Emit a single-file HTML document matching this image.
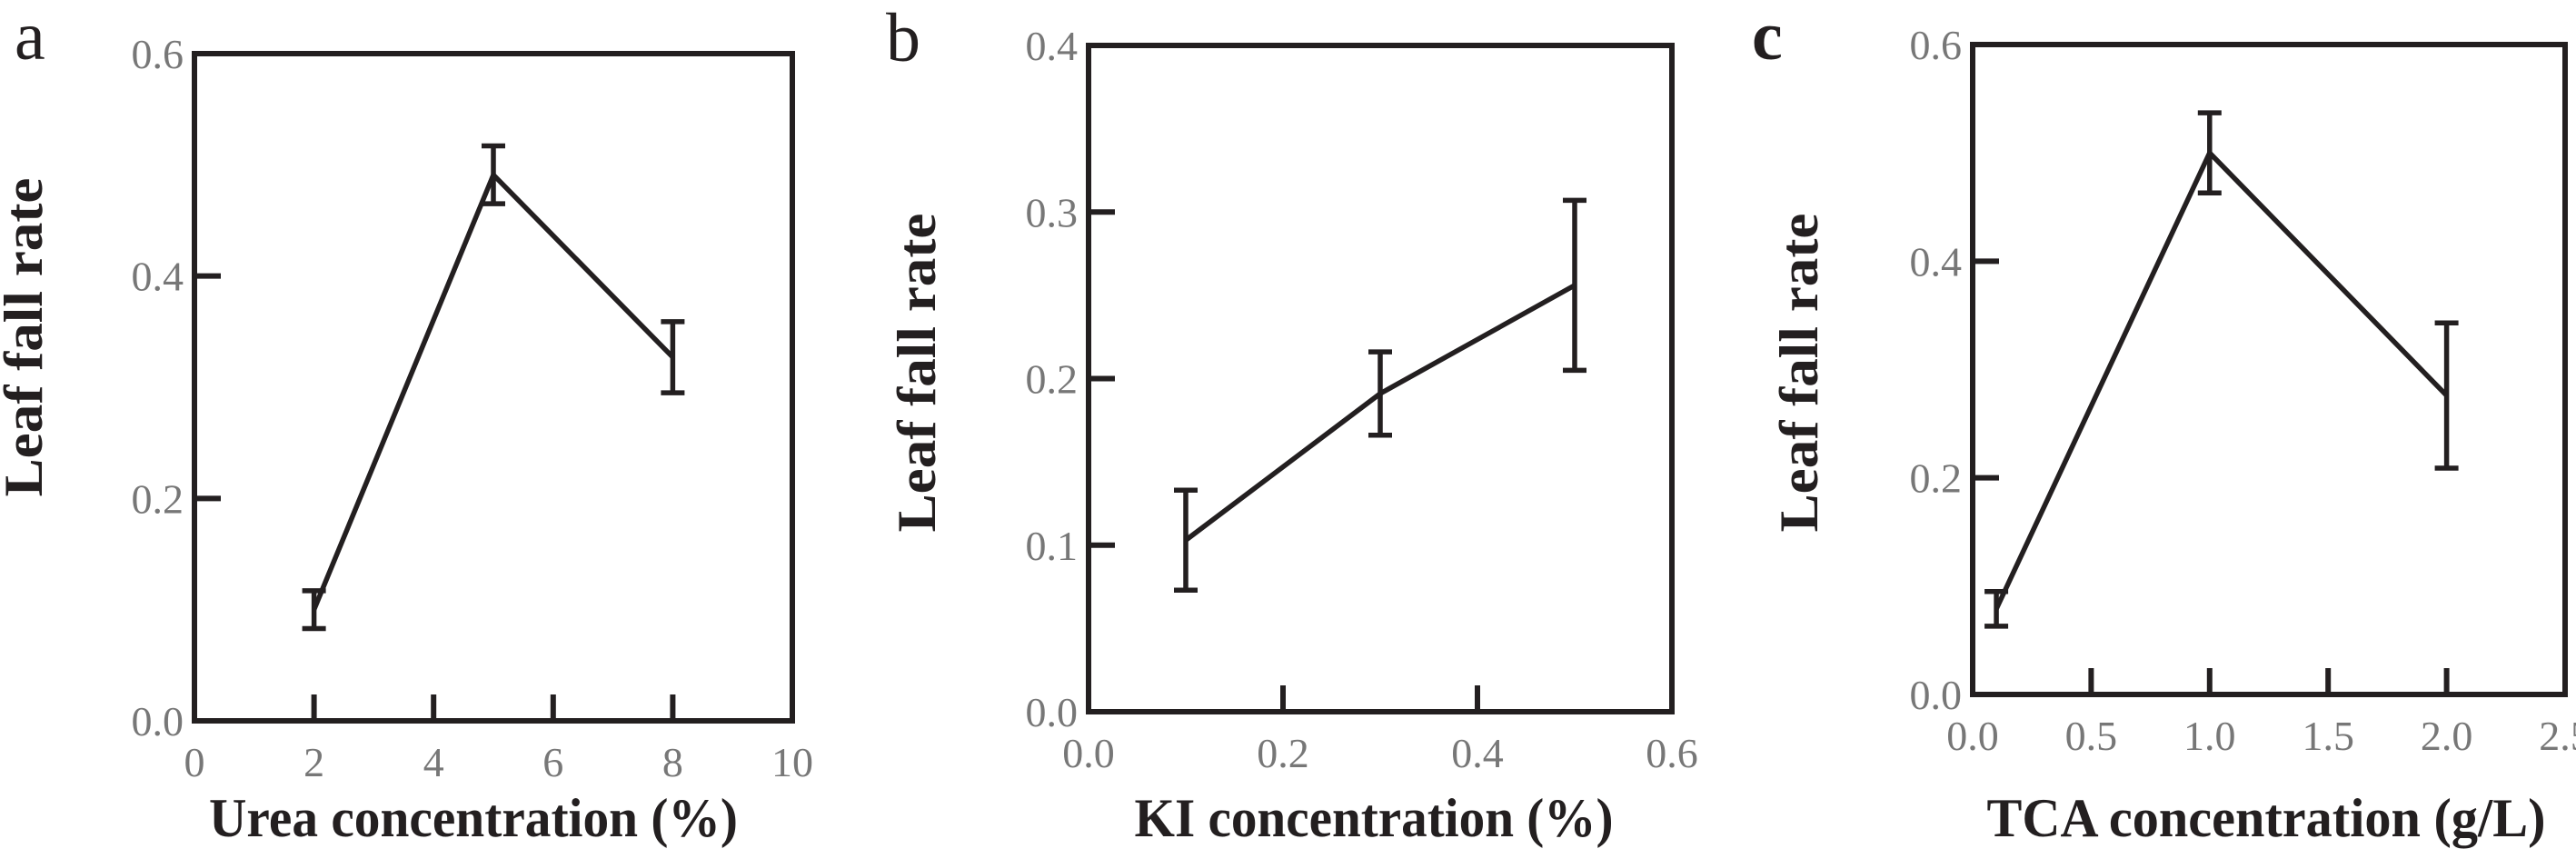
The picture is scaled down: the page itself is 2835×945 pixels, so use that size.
<!DOCTYPE html>
<html><head><meta charset="utf-8"><style>
html,body{margin:0;padding:0;background:#fff;}
svg{display:block;}
</style></head><body>
<svg id="fig" width="2835" height="945" viewBox="0 0 2835 945" xmlns="http://www.w3.org/2000/svg"></svg>
<script>
// Panel a data
const aX = [2, 5, 8];
const aY = [0.10, 0.491, 0.327];
const aErr = [0.017, 0.026, 0.032];
const aXTicks = ["0","2","4","6","8","10"];
const aYTicks = ["0.0","0.2","0.4","0.6"];
// Panel b data
const bX = [0.1, 0.3, 0.5];
const bY = [0.103, 0.191, 0.256];
const bErr = [0.030, 0.025, 0.051];
const bXTicks = ["0.0","0.2","0.4","0.6"];
const bYTicks = ["0.0","0.1","0.2","0.3","0.4"];
// Panel c data
const cX = [0.1, 1.0, 2.0];
const cY = [0.079, 0.50, 0.276];
const cErr = [0.016, 0.037, 0.067];
const cXTicks = ["0.0","0.5","1.0","1.5","2.0","2.5"];
const cYTicks = ["0.0","0.2","0.4","0.6"];

const NS = "http://www.w3.org/2000/svg";
const svg = document.getElementById('fig');
function mk(tag, attrs, parent, text){
  const e = document.createElementNS(NS, tag);
  for (const k in attrs) e.setAttribute(k, attrs[k]);
  if (text !== undefined) e.textContent = text;
  (parent||svg).appendChild(e);
  return e;
}
const SERIF = '"Liberation Serif", serif';

function panel(cfg){
  const g = mk('g', {});
  
  
  const L=cfg.L,R=cfg.R,T=cfg.T,B=cfg.B;
  const xmin=parseFloat(cfg.xt[0]), xmax=parseFloat(cfg.xt[cfg.xt.length-1]);
  const ymin=parseFloat(cfg.yt[0]), ymax=parseFloat(cfg.yt[cfg.yt.length-1]);
  const sx = v => L + (v - xmin) / (xmax - xmin) * (R - L);
  const sy = v => B - (v - ymin) / (ymax - ymin) * (B - T);
  const fr = mk('rect', {x:L,y:T,width:R-L,height:B-T,fill:'none',stroke:'#231f20','stroke-width':6}, g);
  
  
  cfg.yt.forEach((t,i)=>{
    const v=parseFloat(t), y=sy(v);
    if (i>0 && i<cfg.yt.length-1){
      const tk = mk('line',{x1:L,x2:L+29,y1:y,y2:y,stroke:'#231f20','stroke-width':6},g);
      
      
    }
    const lb = mk('text',{x:L-12,y:y+16,'text-anchor':'end','font-family':SERIF,'font-size':46,fill:'#777'},g,t);
    
    
  });
  cfg.xt.forEach((t,i)=>{
    const v=parseFloat(t), x=sx(v);
    if (i>0 && i<cfg.xt.length-1){
      const tk = mk('line',{x1:x,x2:x,y1:B,y2:B-29,stroke:'#231f20','stroke-width':6},g);
      
      
    }
    const lb = mk('text',{x:x,y:B+61,'text-anchor':'middle','font-family':SERIF,'font-size':46,fill:'#777'},g,t);
    
    
  });
  const pts = cfg.x.map((v,i)=>sx(v)+','+sy(cfg.y[i])).join(' ');
  const pl = mk('polyline',{points:pts,fill:'none',stroke:'#231f20','stroke-width':5.5,'stroke-linejoin':'miter'},g);
  
  
  cfg.x.forEach((v,i)=>{
    const x=sx(v), y1=sy(cfg.y[i]+cfg.e[i]), y2=sy(cfg.y[i]-cfg.e[i]);
    const eg = mk('g',{stroke:'#231f20','stroke-width':5.5},g);
    
    
    mk('line',{x1:x,x2:x,y1:y1,y2:y2},eg);
    mk('line',{x1:x-13,x2:x+13,y1:y1,y2:y1},eg);
    mk('line',{x1:x-13,x2:x+13,y1:y2,y2:y2},eg);
  });
  const xt = mk('text',{x:cfg.xtx,y:920,'text-anchor':'middle','font-family':SERIF,'font-weight':'bold','font-size':60,fill:'#231f20',textLength:cfg.xtw,lengthAdjust:'spacingAndGlyphs'},g,cfg.xtitle);
  
  
  const yt = mk('text',{x:0,y:0,'text-anchor':'middle','font-family':SERIF,'font-weight':'bold','font-size':60,fill:'#231f20',textLength:351,lengthAdjust:'spacingAndGlyphs',transform:`translate(${cfg.ytx},${cfg.yty}) rotate(-90)`},g,'Leaf fall rate');
  
  
  const pl2 = mk('text',{x:cfg.lx,y:cfg.ly,'font-family':SERIF,'font-size':76,fill:'#231f20','font-weight':cfg.lb?'bold':'normal'},g,cfg.id);
  
  
}

panel({id:'a',L:214,R:872,T:59,B:793,xt:aXTicks,yt:aYTicks,x:aX,y:aY,e:aErr,
  xtitle:'Urea concentration (%)',xtx:521,xtw:582,ytx:46,yty:371,lx:16,ly:65});
panel({id:'b',L:1198,R:1840,T:50,B:783,xt:bXTicks,yt:bYTicks,x:bX,y:bY,e:bErr,
  xtitle:'KI concentration (%)',xtx:1512,xtw:527,ytx:1029,yty:410,lx:975,ly:67});
panel({id:'c',L:2171,R:2823,T:49,B:764,xt:cXTicks,yt:cYTicks,x:cX,y:cY,e:cErr,
  xtitle:'TCA concentration (g/L)',xtx:2494,xtw:615,ytx:2000,yty:410,lx:1928,ly:65,lb:true});
</script>
</body></html>
